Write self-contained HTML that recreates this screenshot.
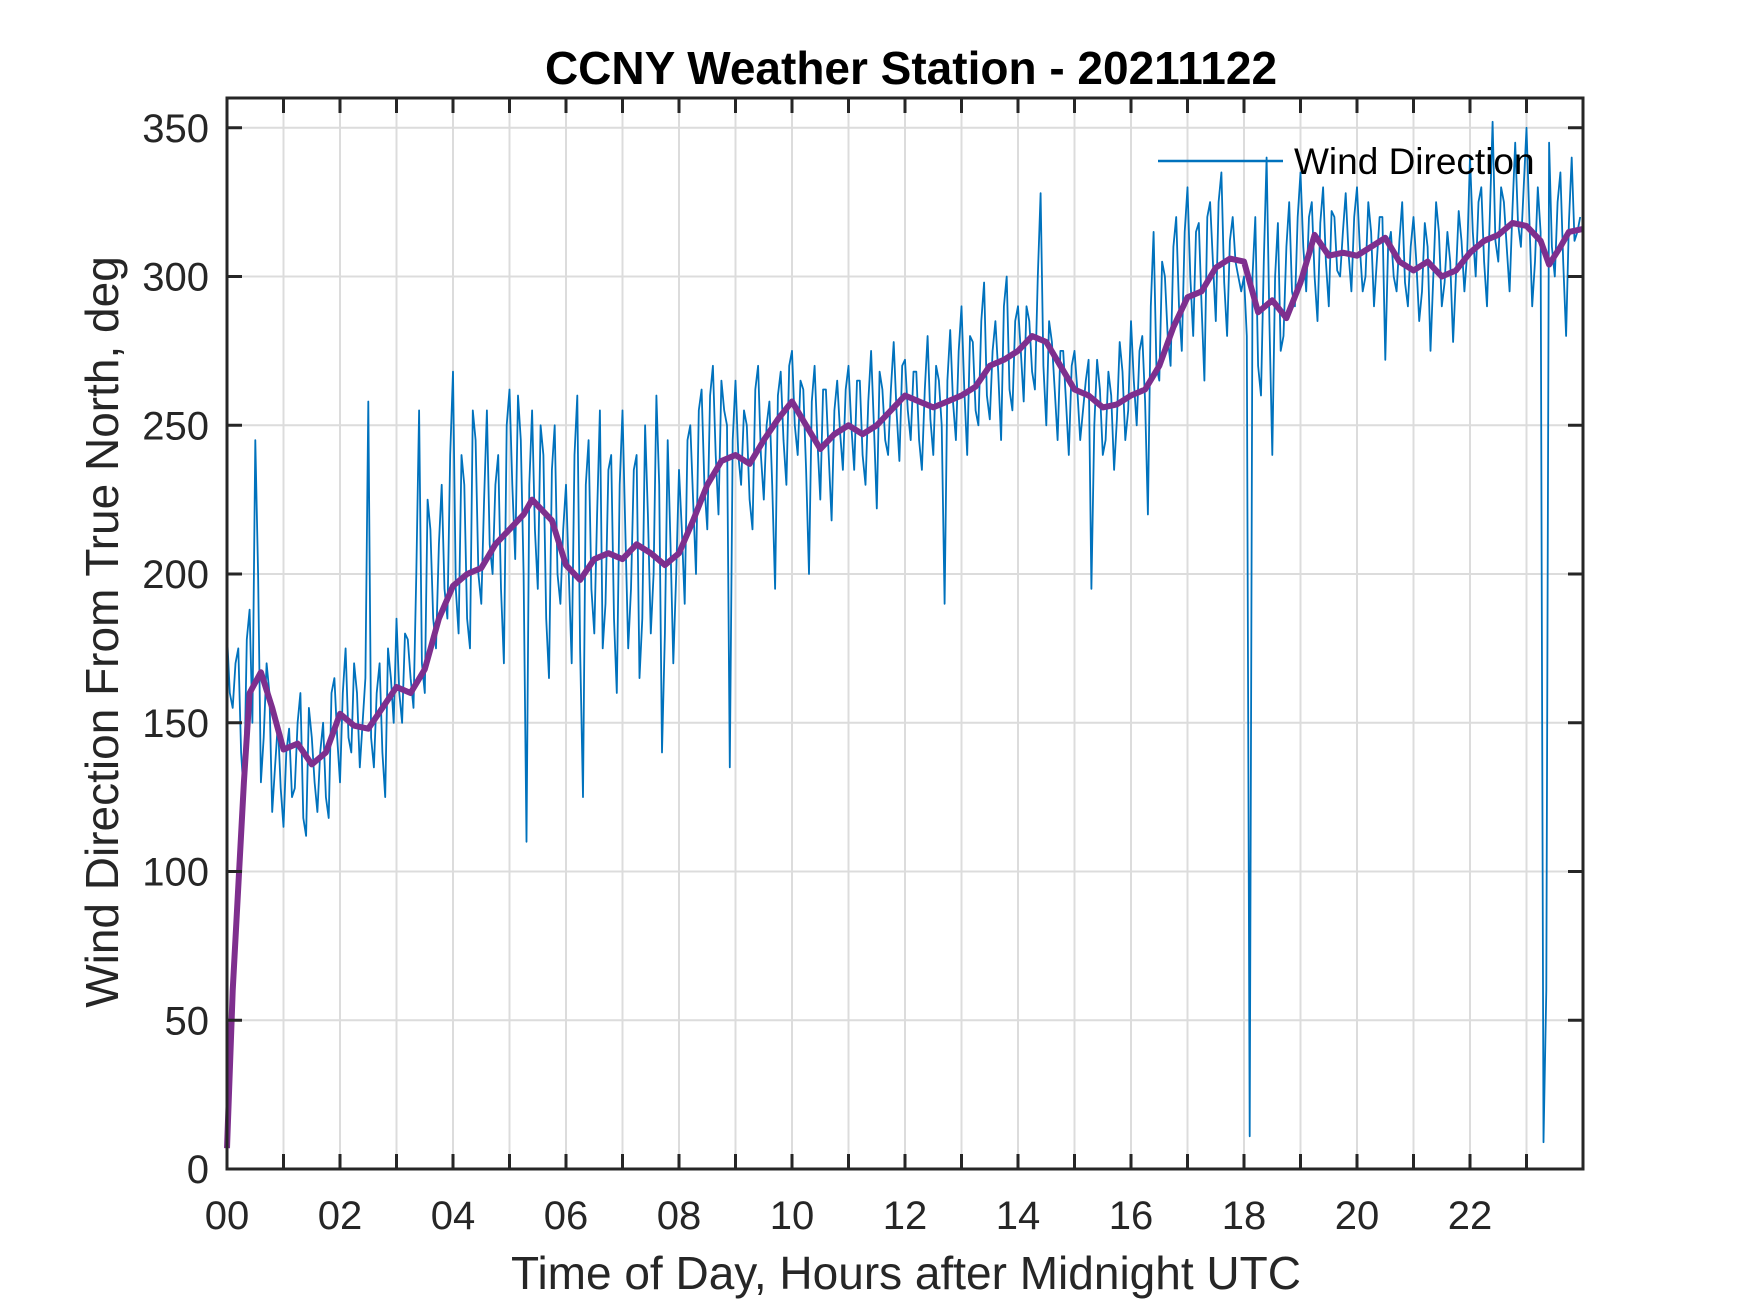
<!DOCTYPE html>
<html><head><meta charset="utf-8">
<style>
html,body{margin:0;padding:0;background:#fff;}
svg{display:block;}
text{font-family:"Liberation Sans",Arial,sans-serif;}
</style></head>
<body>
<svg id="chart" width="1750" height="1313" viewBox="0 0 1750 1313" xmlns="http://www.w3.org/2000/svg">
<rect x="0" y="0" width="1750" height="1313" fill="#fff"/>
<g id="grid"></g>
<g id="series"></g>
<g id="axes"></g>
<text x="911" y="84" text-anchor="middle" font-size="46" font-weight="bold" fill="#000">CCNY Weather Station - 20211122</text>
<text x="906" y="1289" text-anchor="middle" font-size="46" fill="#262626">Time of Day, Hours after Midnight UTC</text>
<text transform="translate(118,632) rotate(-90)" text-anchor="middle" font-size="46" fill="#262626">Wind Direction From True North, deg</text>
<g>
<line x1="1158" y1="161" x2="1283" y2="161" stroke="#0072BD" stroke-width="2.5"/>
<text x="1294" y="174" font-size="37" fill="#000">Wind Direction</text>
</g>
</svg>
<script>
const windValues = [
180,155,175,125,188,245,130,170,120,150,
115,148,128,160,112,145,120,150,118,165,
130,175,140,160,150,258,135,170,125,165,
185,150,178,155,255,160,215,175,230,185,
268,180,230,175,245,190,255,200,240,170,
262,205,245,110,255,195,240,165,250,190,
230,170,260,125,245,180,255,190,240,160,
255,175,235,165,250,180,260,140,245,170,
235,190,250,200,262,215,270,220,255,135,
265,230,250,215,270,225,258,195,268,230,
275,240,262,200,270,225,262,218,265,235,
270,235,265,230,275,222,262,240,278,238,
272,245,268,235,280,240,265,190,282,245,
290,240,278,250,298,252,285,245,300,255,
290,258,285,262,328,250,278,245,275,240,
275,245,265,195,272,240,268,235,278,245,
285,250,280,220,315,265,300,270,320,275,
330,280,318,265,325,285,335,280,320,300,
300,11,320,260,340,240,318,280,325,290,
335,295,325,285,330,290,320,300,328,295,
330,295,325,290,320,272,315,295,325,290,
320,285,318,275,325,290,315,278,322,295,
340,300,330,290,352,305,325,295,345,310,
350,290,330,9,345,300,335,280,340,315
];
const windValuesHalf = [
160,170,140,178,150,200,145,160,135,128,
140,125,150,118,155,130,140,125,160,145,
160,145,170,135,165,145,160,140,175,150,
160,180,165,200,170,225,185,210,195,240,
195,240,185,255,200,225,210,230,195,250,
230,260,200,230,215,250,185,235,200,215,
200,240,175,230,195,220,175,235,185,230,
215,195,240,185,220,200,230,180,210,200,
215,245,225,255,230,260,240,265,250,245,
240,255,225,262,240,250,230,260,245,270,
250,265,235,258,245,262,240,255,248,262,
250,265,240,258,250,268,245,262,255,270,
255,268,245,262,252,270,250,265,258,275,
262,280,255,285,260,275,268,290,262,285,
275,290,268,300,270,285,262,275,258,270,
262,255,272,250,262,245,260,252,268,255,
265,275,258,290,270,305,280,310,290,315,
300,315,290,320,305,325,298,312,305,295,
280,300,270,305,285,300,275,310,295,320,
310,320,300,318,305,322,302,315,308,320,
310,300,315,305,320,310,300,312,298,310,
305,295,310,300,315,298,305,300,312,308,
315,325,305,320,312,330,310,322,318,330,
320,305,315,60,310,325,305,318,312,320
];
const windStepHours = 0.1;
const meanHours = [0,0.1,0.3,0.4,0.6,0.8,1.0,1.25,1.5,1.75,2.0,2.25,2.5,2.75,3.0,3.25,3.5,3.75,4.0,4.25,4.5,4.75,5.0,5.25,5.4,5.75,6.0,6.25,6.5,6.75,7.0,7.25,7.5,7.75,8.0,8.25,8.5,8.75,9.0,9.25,9.5,9.75,10.0,10.25,10.5,10.75,11.0,11.25,11.5,11.75,12.0,12.25,12.5,12.75,13.0,13.25,13.5,13.75,14.0,14.25,14.5,14.75,15.0,15.25,15.5,15.75,16.0,16.25,16.5,16.75,17.0,17.25,17.5,17.75,18.0,18.25,18.5,18.75,19.0,19.25,19.5,19.75,20.0,20.25,20.5,20.75,21.0,21.25,21.5,21.75,22.0,22.25,22.5,22.75,23.0,23.25,23.4,23.6,23.75,24];
const meanValues = [7,60,130,160,167,155,141,143,136,140,153,149,148,155,162,160,168,185,196,200,202,210,215,220,225,218,203,198,205,207,205,210,207,203,207,218,230,238,240,237,245,252,258,250,242,247,250,247,250,255,260,258,256,258,260,263,270,272,275,280,278,270,262,260,256,257,260,262,270,283,293,295,303,306,305,288,292,286,298,314,307,308,307,310,313,305,302,305,300,302,308,312,314,318,317,312,304,310,315,316];
const xTickHours = [0,1,2,3,4,5,6,7,8,9,10,11,12,13,14,15,16,17,18,19,20,21,22,23];
const xTickLabels = ["00","","02","","04","","06","","08","","10","","12","","14","","16","","18","","20","","22",""];
const yTicks = [0,50,100,150,200,250,300,350];

const L=227,R=1583,T=98,B=1169,XMAX=24,YMAX=360;
const sx=h=>L+(R-L)*h/XMAX;
const sy=v=>B-(B-T)*v/YMAX;
const NS="http://www.w3.org/2000/svg";
function mk(tag,attrs,parent){const e=document.createElementNS(NS,tag);for(const k in attrs)e.setAttribute(k,attrs[k]);parent.appendChild(e);return e;}
const grid=document.getElementById('grid'),series=document.getElementById('series'),axes=document.getElementById('axes');

xTickHours.forEach((h,i)=>{
  const x=sx(h);
  if(h>0){const g=mk('line',{x1:x,y1:T,x2:x,y2:B,stroke:'#dcdcdc','stroke-width':2},grid);
  
  }
  const t1=mk('line',{x1:x,y1:B,x2:x,y2:B-15,stroke:'#262626','stroke-width':3},axes);
  
  
  const t2=mk('line',{x1:x,y1:T,x2:x,y2:T+15,stroke:'#262626','stroke-width':3},axes);
  
  
  if(xTickLabels[i]){const tx=mk('text',{x:x,y:1229,'text-anchor':'middle','font-size':40,fill:'#262626'},axes);
  tx.textContent=xTickLabels[i];
  
  }
});
yTicks.forEach(v=>{
  const y=sy(v);
  if(v>0){const g=mk('line',{x1:L,y1:y,x2:R,y2:y,stroke:'#dcdcdc','stroke-width':2},grid);
  
  }
  const t1=mk('line',{x1:L,y1:y,x2:L+15,y2:y,stroke:'#262626','stroke-width':3},axes);
  
  
  const t2=mk('line',{x1:R,y1:y,x2:R-15,y2:y,stroke:'#262626','stroke-width':3},axes);
  
  
  const tx=mk('text',{x:209,y:y+14,'text-anchor':'end','font-size':40,fill:'#262626'},axes);
  tx.textContent=String(v);
  
  
});
const frame=mk('rect',{x:L,y:T,width:R-L,height:B-T,fill:'none',stroke:'#262626','stroke-width':3},axes);



const pts=[];
windValues.forEach((v,i)=>{
  pts.push([i*windStepHours,v]);
  if(i<windValuesHalf.length) pts.push([i*windStepHours+windStepHours/2,windValuesHalf[i]]);
});
const bp=pts.map(p=>sx(Math.min(p[0],XMAX)).toFixed(1)+','+sy(p[1]).toFixed(1)).join(' ');
const blue=mk('polyline',{points:bp,fill:'none',stroke:'#0072BD','stroke-width':1.8,'stroke-linejoin':'round'},series);


const pp=meanValues.map((v,i)=>sx(meanHours[i]).toFixed(1)+','+sy(v).toFixed(1)).join(' ');
const purple=mk('polyline',{points:pp,fill:'none',stroke:'#7E2F8E','stroke-width':6,'stroke-linejoin':'round'},series);


</script>
</body></html>
